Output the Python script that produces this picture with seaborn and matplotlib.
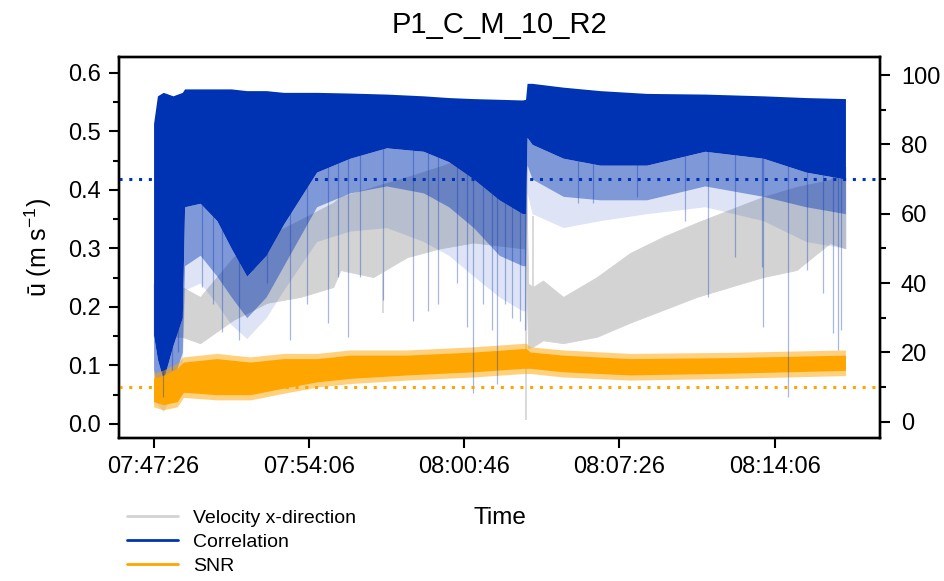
import numpy as np
import pandas as pd
import matplotlib
matplotlib.use("Agg")
import matplotlib.pyplot as plt
from matplotlib.lines import Line2D
from matplotlib.ticker import MultipleLocator, FixedLocator
import seaborn as sns

# ---------------- data ----------------
title = "P1_C_M_10_R2"
xtick_seconds = [0, 400, 800, 1200, 1600]
xtick_labels = ["07:47:26", "07:54:06", "08:00:46", "08:07:26", "08:14:06"]

# Correlation (right axis, %) : envelope of the dense signal
corr_t = [0, 10, 25, 50, 74, 80, 120, 163, 200, 240, 290, 335, 420, 506, 600,
          695, 760, 824, 890, 950, 958, 962, 975, 1055, 1150, 1270, 1420, 1570, 1680, 1782]
corr_top = [86, 94, 95, 94, 95, 96, 96, 96, 96, 95.5, 95.5, 95, 95, 94.8, 94.5,
            94, 93.5, 93.2, 93, 92.8, 93, 97.6, 97.6, 96.5, 95.5, 94.7, 94.5, 94, 93.5, 93.2]
corr_core_low = [25, 18, 12, 22, 30, 62, 63, 58, 50, 42, 48, 57, 72, 76, 79,
                 78, 75, 70, 64, 60, 60, 82, 80, 76, 74, 74, 78, 76, 72, 70]
corr_fringe_low = [15, 8, 5, 12, 20, 45, 48, 42, 36, 30, 36, 45, 62, 66, 68,
                   66, 62, 56, 48, 45, 45, 74, 70, 65, 64, 64, 68, 65, 62, 60]
corr_haze_low = [10, 5, 3, 8, 15, 38, 40, 34, 28, 24, 30, 38, 52, 55, 56,
                 52, 48, 42, 36, 32, 32, 66, 60, 56, 58, 60, 62, 58, 52, 50]
# isolated drop-outs of the correlation (time s, minimum %)
spike_t = [25, 48, 64, 125, 154, 177, 219, 257, 292, 352, 395, 450, 476, 502, 532,
           592, 669, 707, 733, 781, 807, 823, 849, 871, 885, 905, 923, 944, 956,
           1094, 1133, 1245, 1369, 1429, 1497, 1567, 1570, 1635, 1683, 1724, 1750, 1763, 1771]
spike_min = [7, 15, 20, 39, 34, 26, 23.6, 43.7, 40, 23.6, 34, 28.4, 41.7, 24.4, 41.7,
             35, 29, 32, 34, 40, 27.3, 8.2, 34, 26.4, 11, 34, 30, 29, 26.4,
             63, 63, 64.8, 58, 36, 47.5, 44.6, 27.3, 7, 43.7, 37, 25.5, 20.7, 26.4]

# SNR (right axis)
snr_t = [0, 25, 61, 77, 163, 249, 335, 421, 506, 653, 824, 953, 960, 970, 1055, 1227, 1484, 1782]
snr_hi = [14, 14.9, 16.9, 18.7, 19.7, 18.7, 19.7, 19.7, 20.7, 20.7, 21.6, 22.6, 22.6, 21.6, 20.7, 19.7, 20, 20.7]
snr_lo = [4.3, 3.4, 4.3, 7, 6.3, 6.3, 8.2, 10, 11, 12, 12.9, 13.9, 13.9, 13.9, 12.9, 12, 12.5, 13.3]

# Velocity x-direction (left axis, m/s)
vel_t = [0, 73, 120, 206, 292, 378, 463, 481, 566, 653, 738, 824, 953, 958, 965, 977,
         1003, 1055, 1142, 1227, 1313, 1399, 1484, 1570, 1656, 1742, 1782]
vel_hi = [0.24, 0.234, 0.217, 0.285, 0.32, 0.349, 0.378, 0.388, 0.405, 0.422, 0.44, 0.46, 0.47, 0.47,
          0.24, 0.234, 0.245, 0.217, 0.251, 0.292, 0.32, 0.344, 0.366, 0.388, 0.405, 0.417, 0.44]
vel_lo = [0.15, 0.149, 0.138, 0.178, 0.207, 0.217, 0.234, 0.263, 0.251, 0.285, 0.30, 0.31, 0.30, 0.30,
          0.13, 0.132, 0.143, 0.138, 0.149, 0.173, 0.195, 0.217, 0.234, 0.251, 0.263, 0.309, 0.30]
vspike_t = [592, 958, 977]
vspike_lo = [0.19, 0.007, 0.20]
vspike_hi = [0.30, 0.33, 0.355]

corr_threshold = 70
snr_threshold = 10

# ---------------- style ----------------
sns.set_theme(style="ticks")
plt.rcParams["font.family"] = ["Liberation Sans", "DejaVu Sans"]
plt.rcParams["mathtext.default"] = "regular"
plt.rcParams["text.color"] = "black"
plt.rcParams["axes.labelcolor"] = "black"

BLUE = "#0033b3"
ORANGE = "#ffa500"
GREY = "#d3d3d3"

fig = plt.figure(figsize=(9.45, 5.81), dpi=100)
ax = fig.add_axes([119 / 945, 1 - 438 / 581, (880 - 119) / 945, (438 - 57) / 581])
ax2 = ax.twinx()

# velocity (left axis)
vel = pd.DataFrame({"t": vel_t, "lo": vel_lo, "hi": vel_hi})
ax.fill_between(vel["t"], vel["lo"], vel["hi"], color=GREY, lw=0.6, edgecolor=GREY)
ax.vlines(vspike_t, vspike_lo, vspike_hi, color=GREY, lw=1.2)

# correlation (right axis)
corr = pd.DataFrame({"t": corr_t, "top": corr_top, "core": corr_core_low,
                     "fringe": corr_fringe_low, "haze": corr_haze_low})
ax2.vlines(spike_t, spike_min, 90, color=BLUE, lw=0.9, alpha=0.35)
ax2.fill_between(corr["t"], corr["haze"], corr["fringe"], color=BLUE, lw=0, alpha=0.13)
ax2.fill_between(corr["t"], corr["fringe"], corr["core"], color=BLUE, lw=0, alpha=0.5)
ax2.fill_between(corr["t"], corr["core"], corr["top"], color=BLUE, lw=0)

# SNR (right axis)
snr = pd.DataFrame({"t": snr_t, "lo": snr_lo, "hi": snr_hi})
ax2.fill_between(snr["t"], snr["lo"], snr["hi"], color=ORANGE, lw=0, alpha=0.5)
ax2.fill_between(snr["t"], snr["lo"] + 1.5, snr["hi"] - 1.5, color=ORANGE, lw=0)

# thresholds
ax2.axhline(corr_threshold, color=BLUE, lw=2.2, ls=(0, (1, 2.2)))
ax2.axhline(snr_threshold, color=ORANGE, lw=2.2, ls=(0, (1, 2.2)))

# limits
ax.set_xlim(-89, 1871)
ax.set_ylim(-0.024, 0.627)
ax2.set_ylim(-4.7, 105.2)

# ticks
ax.xaxis.set_major_locator(FixedLocator(xtick_seconds))
ax.set_xticklabels(xtick_labels)
ax.yaxis.set_minor_locator(MultipleLocator(0.05))
ax2.yaxis.set_major_locator(MultipleLocator(20))
ax2.yaxis.set_minor_locator(MultipleLocator(10))
yt = np.round(np.arange(0, 0.61, 0.1), 1)
ax.set_yticks(yt)
ax.set_yticklabels([f"{v:.1f}" for v in yt])

for a in (ax, ax2):
    a.tick_params(which="major", direction="out", length=7, width=1.5, labelsize=17, pad=6,
                  color="black", labelcolor="black")
    a.tick_params(which="minor", direction="out", length=4.5, width=1.5, color="black")
    for s in a.spines.values():
        s.set_linewidth(1.7)
        s.set_color("black")
    a.grid(False)
ax2.tick_params(which="major", pad=8)

ax.set_title(title, fontsize=21, pad=17, color="black")
ax.set_xlabel("Time", fontsize=17.5, labelpad=21)
ax.set_ylabel("ū (m s$^{-1}$)", fontsize=18, labelpad=10)

handles = [Line2D([], [], color=GREY, lw=2), Line2D([], [], color=BLUE, lw=2), Line2D([], [], color=ORANGE, lw=2)]
labels = ["Velocity x-direction", "Correlation", "SNR"]
fig.legend(handles, labels, loc="upper left", bbox_to_anchor=(127 / 945, 1 - 509 / 581),
           frameon=False, fontsize=14, handlelength=2.6, handletextpad=0.8,
           labelspacing=0.33, borderpad=0, borderaxespad=0)

fig.savefig("out.png", dpi=100)
